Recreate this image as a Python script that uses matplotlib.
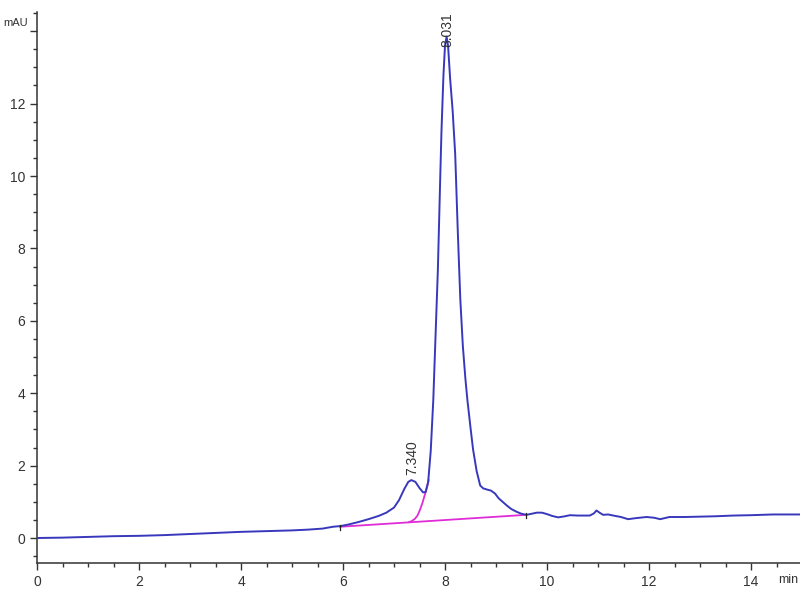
import numpy as np
import matplotlib.pyplot as plt
from matplotlib.ticker import MultipleLocator

plt.rcParams['font.family'] = ['Liberation Sans', 'DejaVu Sans']

# chromatogram trace (min, mAU)
time = [0.0, 0.5, 1.0, 1.5, 2.0, 2.5, 3.0, 3.5, 4.0, 4.5, 5.0, 5.3, 5.6, 5.8,
        5.95, 6.1, 6.3, 6.5, 6.7, 6.85, 7.0, 7.1, 7.2, 7.28, 7.34, 7.42, 7.5,
        7.57, 7.62, 7.67, 7.72, 7.77, 7.82, 7.86, 7.90, 7.93, 7.97, 8.00,
        8.031, 8.06, 8.10, 8.15, 8.20, 8.25, 8.30, 8.35, 8.40, 8.44, 8.50,
        8.55, 8.62, 8.69, 8.75, 8.82, 8.90, 8.98, 9.05, 9.13, 9.21, 9.30,
        9.41, 9.50, 9.60, 9.70, 9.80, 9.90, 10.0, 10.1, 10.22, 10.35, 10.45,
        10.6, 10.84, 10.92, 10.97, 11.03, 11.1, 11.2, 11.3, 11.45, 11.59,
        11.75, 11.95, 12.1, 12.22, 12.4, 12.7, 13.0, 13.3, 13.65, 14.0,
        14.43, 14.96]
signal = [0.00, 0.01, 0.03, 0.05, 0.06, 0.08, 0.11, 0.14, 0.17, 0.19, 0.21,
          0.23, 0.26, 0.31, 0.33, 0.37, 0.44, 0.52, 0.61, 0.70, 0.84, 1.05,
          1.35, 1.55, 1.60, 1.55, 1.38, 1.26, 1.27, 1.55, 2.4, 3.8, 5.8, 7.4,
          9.6, 11.2, 12.8, 13.6, 13.85, 13.6, 12.7, 11.8, 10.6, 8.5, 6.6, 5.3,
          4.4, 3.8, 3.05, 2.45, 1.85, 1.45, 1.37, 1.34, 1.31, 1.23, 1.10,
          1.00, 0.90, 0.80, 0.72, 0.67, 0.64, 0.67, 0.70, 0.70, 0.66, 0.61,
          0.57, 0.60, 0.63, 0.62, 0.62, 0.68, 0.76, 0.70, 0.64, 0.65, 0.62,
          0.58, 0.52, 0.55, 0.58, 0.56, 0.52, 0.58, 0.58, 0.59, 0.60, 0.62,
          0.63, 0.65, 0.65]

# integration baseline and skim under the 7.340 peak
base_t = [5.94, 9.59]
base_y = [0.31, 0.64]
skim_t = [7.68, 7.65, 7.61, 7.56, 7.51, 7.46, 7.41, 7.35, 7.30]
skim_y = [1.60, 1.42, 1.22, 0.98, 0.78, 0.62, 0.53, 0.47, 0.44]

peak_lbl = ['7.340', '8.031']
lbl_x = [7.35, 8.05]
lbl_y = [1.74, 13.56]

fig = plt.figure(figsize=(8, 6), dpi=100)
ax = fig.add_axes([37 / 800, 37 / 600, 763 / 800, 551 / 600])

blue = '#3838bd'
mag = '#e02cd6'
ax.plot(base_t, base_y, color=mag, lw=1.3, zorder=2)
ax.plot(skim_t, skim_y, color=mag, lw=1.3, zorder=2)
ax.plot(time, signal, color=blue, lw=1.4, zorder=3)
for bt, by in zip(base_t, base_y):
    ax.plot([bt, bt], [by - 0.1, by + 0.05], color='#222222', lw=0.9, zorder=4)

for x, y, s in zip(lbl_x, lbl_y, peak_lbl):
    ax.text(x, y, s, rotation=90, ha='center', va='bottom', fontsize=10,
            color='#333333', clip_on=False, zorder=5)

ax.set_xlim(0, 763 / 51)
ax.set_ylim(-25 / 36.2, 526 / 36.2)

ax.set_xticks(np.arange(0, 15, 2))
ax.set_yticks(np.arange(0, 15, 2))
ax.set_yticklabels([str(v) for v in range(0, 13, 2)] + [''])
ax.xaxis.set_minor_locator(MultipleLocator(0.5))
ax.yaxis.set_minor_locator(MultipleLocator(0.5))
ax.tick_params(which='both', direction='out', color='#333333',
               labelcolor='#333333', labelsize=10, width=1.0)
ax.tick_params(which='major', length=5)
ax.tick_params(which='minor', length=3)

for side in ['top', 'right']:
    ax.spines[side].set_visible(False)
for side in ['left', 'bottom']:
    ax.spines[side].set_color('#333333')
    ax.spines[side].set_linewidth(1.1)

fig.text(3 / 800, 1 - 23 / 600, 'mAU', fontsize=8, va='center', ha='left',
         color='#333333')
fig.text(778 / 800, 1 - 580 / 600, 'min', fontsize=9, va='center', ha='left',
         color='#333333')

fig.savefig('out.png', dpi=100)
